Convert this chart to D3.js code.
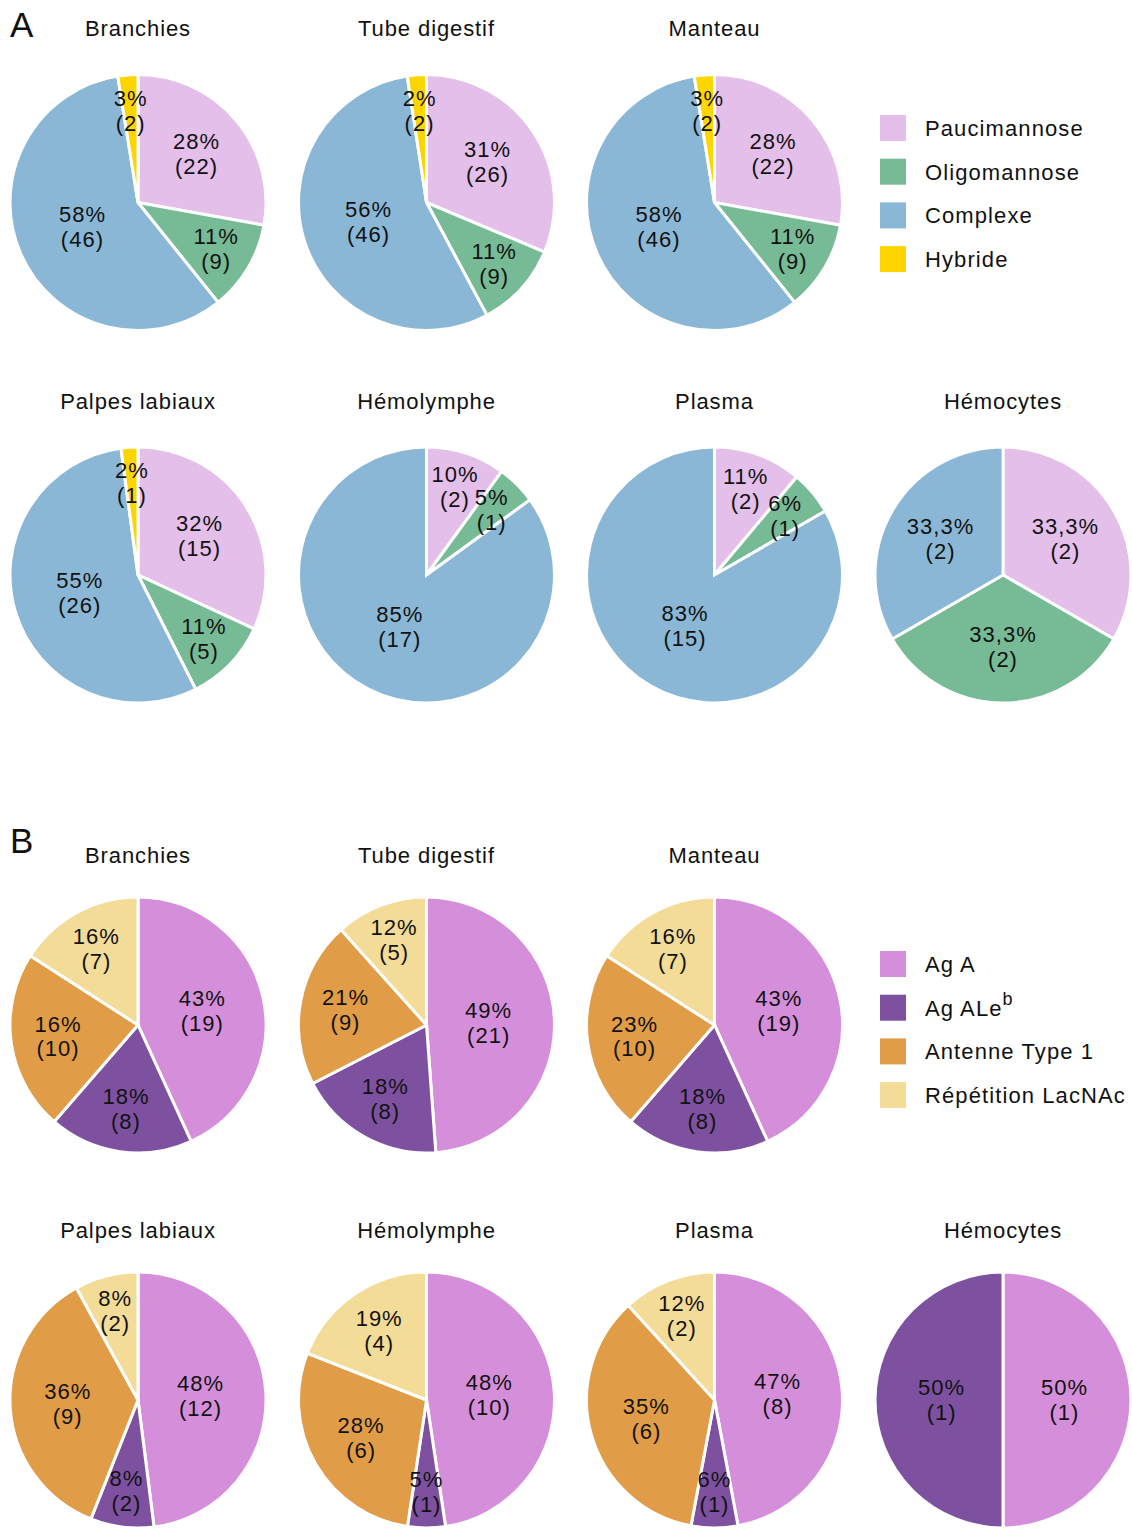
<!DOCTYPE html>
<html>
<head>
<meta charset="utf-8">
<script src="https://cdn.jsdelivr.net/npm/d3@7"></script>
<style>
  html, body { margin: 0; padding: 0; background: #fff; }
  svg { display: block; }
  text { font-family: "Liberation Sans", Arial, sans-serif; fill: #111; }
</style>
</head>
<body>
<svg id="chart" width="1132" height="1528"></svg>
<script>
// ---------- Data ----------
const tissues = ["Branchies", "Tube digestif", "Manteau", "Palpes labiaux", "Hémolymphe", "Plasma", "Hémocytes"];

const typesA = ["Paucimannose", "Oligomannose", "Complexe", "Hybride"];
const countsA = [
  [22, 9, 46, 2],
  [26, 9, 46, 2],
  [22, 9, 46, 2],
  [15, 5, 26, 1],
  [2, 1, 17, 0],
  [2, 1, 15, 0],
  [2, 2, 2, 0]
];
const pctA = [
  ["28%", "11%", "58%", "3%"],
  ["31%", "11%", "56%", "2%"],
  ["28%", "11%", "58%", "3%"],
  ["32%", "11%", "55%", "2%"],
  ["10%", "5%", "85%", ""],
  ["11%", "6%", "83%", ""],
  ["33,3%", "33,3%", "33,3%", ""]
];

const typesB = ["Ag A", "Ag ALe|b", "Antenne Type 1", "Répétition LacNAc"];
const countsB = [
  [19, 8, 10, 7],
  [21, 8, 9, 5],
  [19, 8, 10, 7],
  [12, 2, 9, 2],
  [10, 1, 6, 4],
  [8, 1, 6, 2],
  [1, 1, 0, 0]
];
const pctB = [
  ["43%", "18%", "16%", "16%"],
  ["49%", "18%", "21%", "12%"],
  ["43%", "18%", "23%", "16%"],
  ["48%", "8%", "36%", "8%"],
  ["48%", "5%", "28%", "19%"],
  ["47%", "6%", "35%", "12%"],
  ["50%", "50%", "", ""]
];

const colorsA = ["#E3BFE9", "#77BA96", "#8AB7D5", "#FFD500"];
const colorsB = ["#D58FDA", "#7E51A0", "#E09C46", "#F3DB98"];

// ---------- Layout ----------
const svg = d3.select("#chart");
const R = 128;
const colX = [138, 426.5, 714.5, 1003];
const labelR = d3.scaleLinear().domain([0, 0.1, 0.3, 0.5, 1]).range([0.72, 0.72, 0.58, 0.48, 0.45]).clamp(true);

const arc = d3.arc().innerRadius(0).outerRadius(R);
const pie = d3.pie().sort(null).value(d => d.v);

function drawPanel(letter, letterY, counts, pcts, colors, rowY, titleOffset) {
  svg.append("text")
    .attr("x", 10).attr("y", letterY)
    .style("font-size", "35px")
    .text(letter);

  tissues.forEach((t, i) => {
    const row = i < 3 ? 0 : 1;
    const col = i < 3 ? i : i - 3;
    const cx = colX[col], cy = rowY[row];
    const g = svg.append("g").attr("transform", `translate(${cx},${cy})`);

    svg.append("text")
      .attr("x", cx).attr("y", cy - titleOffset)
      .attr("text-anchor", "middle")
      .attr("dominant-baseline", "central")
      .style("font-size", "22px")
      .style("letter-spacing", "0.9px")
      .text(t);

    const total = d3.sum(counts[i]);
    const data = counts[i].map((v, k) => ({ v, k, p: pcts[i][k] }));
    const arcs = pie(data).filter(d => d.data.v > 0);

    g.selectAll("path")
      .data(arcs)
      .join("path")
      .attr("d", arc)
      .attr("fill", d => colors[d.data.k])
      .attr("stroke", "#fff")
      .attr("stroke-width", 3)
      .attr("stroke-linejoin", "miter");

    arcs.forEach(d => {
      const frac = d.data.v / total;
      const a = (d.startAngle + d.endAngle) / 2;
      const r = labelR(frac) * R;
      const x = r * Math.sin(a), y = -r * Math.cos(a);
      const lab = g.append("text")
        .attr("text-anchor", "middle")
        .style("font-size", "22px")
        .style("letter-spacing", "1px");
      lab.append("tspan").attr("x", x).attr("y", y - 12.5)
        .attr("dominant-baseline", "central").text(d.data.p);
      lab.append("tspan").attr("x", x).attr("y", y + 12.5)
        .attr("dominant-baseline", "central").text(`(${d.data.v})`);
    });
  });
}

function drawLegend(types, colors, y0) {
  const step = 43.7;
  types.forEach((t, k) => {
    const yc = y0 + k * step;
    svg.append("rect")
      .attr("x", 880).attr("y", yc - 13)
      .attr("width", 26).attr("height", 26)
      .attr("fill", colors[k]);
    const txt = svg.append("text")
      .attr("x", 925).attr("y", yc)
      .attr("dominant-baseline", "central")
      .style("font-size", "22px")
      .style("letter-spacing", "1.1px");
    const parts = t.split("|");
    txt.append("tspan").text(parts[0]);
    if (parts[1]) {
      txt.append("tspan")
        .attr("dy", "-9")
        .style("font-size", "18px")
        .text(parts[1]);
    }
  });
}

drawPanel("A", 37, countsA, pctA, colorsA, [202.5, 575], 174);
drawLegend(typesA, colorsA, 128);
drawPanel("B", 853, countsB, pctB, colorsB, [1025, 1400], 170);
drawLegend(typesB, colorsB, 964);
</script>
</body>
</html>
